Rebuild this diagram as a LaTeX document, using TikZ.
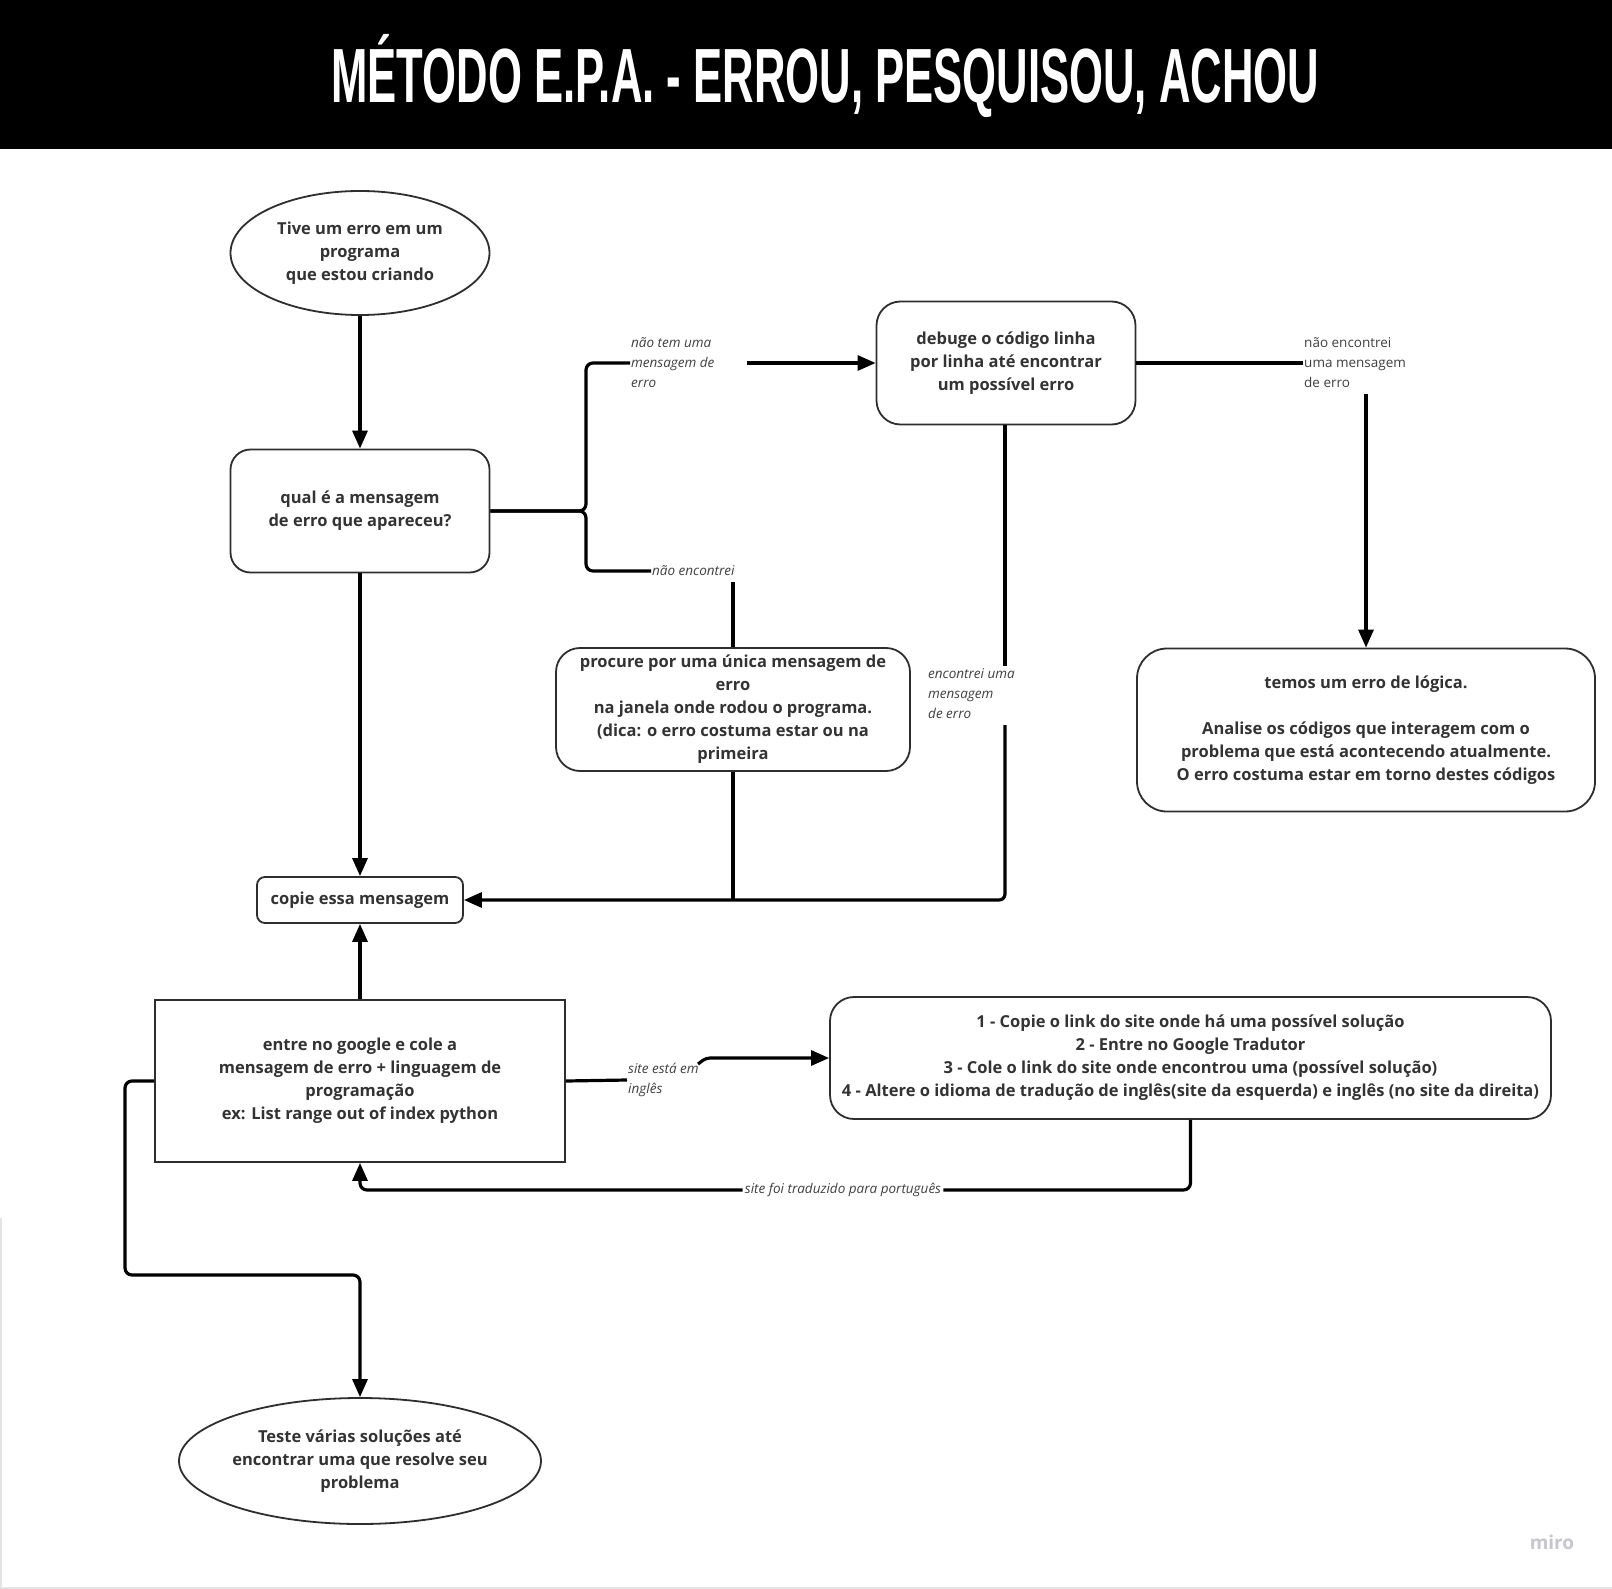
\documentclass[tikz,border=0pt]{standalone}
\usepackage{fontspec}
\usepackage{graphicx}
\setmainfont{Open Sans}
\newfontfamily\titlefont{Liberation Sans}
\usetikzlibrary{arrows.meta,shapes.geometric}
\definecolor{txt}{HTML}{333333}
\definecolor{bordc}{HTML}{2E2E2E}
\definecolor{lblc}{HTML}{404040}
\definecolor{miroc}{HTML}{C6C6CE}
\definecolor{edgec}{HTML}{E4E4E4}
\newcommand\boxfont{\fontsize{16.5}{23}\selectfont\bfseries}
\newcommand\lblfont{\fontsize{13.5}{20}\selectfont}
\begin{document}
\begin{tikzpicture}[x=1pt,y=-1pt,
  box/.style={draw=bordc,line width=1.8pt,align=center,font=\boxfont,text=txt,inner sep=0pt},
  ell/.style={box,shape=ellipse},
  line/.style={draw=black,line width=3.2pt},
  arr/.style={line,-{Triangle[length=18pt,width=15pt]}},
  lbl/.style={font=\lblfont\itshape,text=lblc,align=left,inner sep=1pt},
  ulbl/.style={font=\lblfont,text=lblc,align=left,inner sep=1pt}]
\path[use as bounding box] (0,0) rectangle (1612,1589);
\fill[white] (0,0) rectangle (1612,1589);
\fill[black] (0,0) rectangle (1612,149);
\draw[edgec,line width=2pt] (1,1218) -- (1,1589);
\draw[edgec,line width=1.5pt] (0,1588) -- (1612,1588);
\node[anchor=base west,inner sep=0pt,text=white] (title) at (331,103)
  {\resizebox{988pt}{55pt}{\titlefont\bfseries\rule{0pt}{0.716em}\smash{MÉTODO E.P.A. - ERROU, PESQUISOU, ACHOU}}};

% nodes
\node[ell,minimum width=259pt,minimum height=124pt] (e1) at (360,253)
  {Tive um erro em um\\programa\\que estou criando};
\node[box,rounded corners=20pt,minimum width=259pt,minimum height=123pt] (q) at (360,511)
  {qual é a mensagem\\de erro que apareceu?};
\node[box,rounded corners=24pt,minimum width=259pt,minimum height=123pt] (d) at (1006,363)
  {debuge o código linha\\por linha até encontrar\\um possível erro};
\node[box,rounded corners=30pt,minimum width=458pt,minimum height=163pt] (t) at (1366,730)
  {temos um erro de lógica.\\[23pt]Analise os códigos que interagem com o\\problema que está acontecendo atualmente.\\O erro costuma estar em torno destes códigos};
\node[box,rounded corners=24pt,minimum width=354pt,minimum height=123pt] (p) at (733,709.5)
  {procure por uma única mensagem de\\erro\\na janela onde rodou o programa.\\(dica: o erro costuma estar ou na\\primeira};
\node[box,rounded corners=8pt,minimum width=206pt,minimum height=46pt] (c) at (360,900)
  {copie essa mensagem};
\node[box,minimum width=410pt,minimum height=162pt] (g) at (360,1081)
  {entre no google e cole a\\mensagem de erro + linguagem de\\programação\\ex: List range out of index python};
\node[box,rounded corners=24pt,minimum width=721pt,minimum height=122pt] (s) at (1190.5,1058)
  {1 - Copie o link do site onde há uma possível solução\\2 - Entre no Google Tradutor\\3 - Cole o link do site onde encontrou uma (possível solução)\\4 - Altere o idioma de tradução de inglês(site da esquerda) e inglês (no site da direita)};
\node[ell,minimum width=362pt,minimum height=126pt] (e2) at (360,1461)
  {Teste várias soluções até\\encontrar uma que resolve seu\\problema};
\node[text=miroc,font=\fontsize{19}{19}\selectfont\bfseries,inner sep=0pt] (miro) at (1552,1542) {miro};

% labels
\node[lbl,anchor=west] (l1) at (630,363) {não tem uma\\mensagem de\\erro};
\node[lbl,anchor=west] (l2) at (651,571) {não encontrei};
\node[lbl,anchor=west] (l3) at (927,694) {encontrei uma\\mensagem\\de erro};
\node[ulbl,anchor=west] (l4) at (1303,363) {não encontrei\\uma mensagem\\de erro};
\node[lbl,anchor=west] (l5) at (627,1080) {site está em\\inglês};
\node[lbl,inner sep=2pt] (l6) at (843,1190) {site foi traduzido para português};

% coordinates
\coordinate (j) at (586,511);
\coordinate (a1) at (747,363);
\coordinate (v1) at (733,582);
\coordinate (g1) at (1005,666);
\coordinate (g2) at (1005,725);
\coordinate (k) at (1366,394);
\coordinate (m1) at (698,1064);
\coordinate (m2) at (706,1058);
\coordinate (w1) at (125,1275);

% connectors
\draw[arr] (e1) -- (q);
\draw[arr] (q) -- (c);
\draw[line,rounded corners=7pt] (q.east) -- (j) |- (l1.west);
\draw[line,rounded corners=7pt] (q.east) -- (j) |- (l2.west);
\draw[arr] (a1) -- (d.west);
\draw[line] (v1) -- (p.north);
\draw[line] (p.south) -- (p.south |- c.east);
\draw[line] (d.south -| g1) -- (g1);
\draw[arr,rounded corners=6pt] (g2) |- (c.east);
\draw[line] (d.east) -- (l4.west);
\draw[arr] (k) -- (t.north);
\draw[arr] (g.north) -- (c.south);
\draw[line] (g.east) -- (l5.west);
\draw[arr,rounded corners=4pt] (m1) -- (m2) -- (s.west |- m2);
\draw[line,rounded corners=7pt] (s.south) |- (l6.east);
\draw[arr,rounded corners=7pt] (l6.west) -| (g.south);
\draw[arr,rounded corners=7pt] (g.west) -| (w1) -| (e2.north);
\end{tikzpicture}
\end{document}
